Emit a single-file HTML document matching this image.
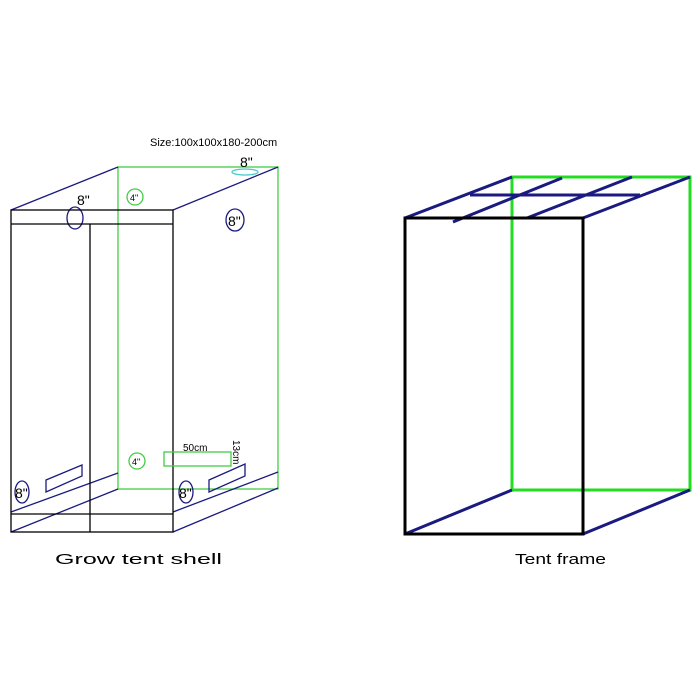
<!DOCTYPE html>
<html><head><style>body{margin:0;background:#fff}svg{display:block}</style></head><body>
<svg width="700" height="700" viewBox="0 0 700 700" xmlns="http://www.w3.org/2000/svg" font-family="Liberation Sans, sans-serif">
<rect width="700" height="700" fill="#fff"/>
<!-- Left shell -->
<g fill="none" stroke-width="1.3">
<rect x="118" y="167" width="160" height="322" stroke="#4c4"/>
<g stroke="#1a1a80">
<line x1="11" y1="210" x2="118" y2="167"/>
<line x1="173" y1="210" x2="278" y2="167"/>
<line x1="11" y1="512" x2="118" y2="473"/>
<line x1="11" y1="532" x2="118" y2="489"/>
<line x1="173" y1="512" x2="278" y2="472"/>
<line x1="173" y1="532" x2="278" y2="488"/>
<ellipse cx="75" cy="218" rx="8" ry="11"/>
<ellipse cx="235" cy="220" rx="9" ry="11"/>
<ellipse cx="22" cy="492" rx="7" ry="11"/>
<ellipse cx="186" cy="492" rx="7" ry="11"/>
<polygon points="46,480 82,465 82,476 46,492"/>
<polygon points="209,480 245,464 245,476 209,492"/>
</g>
<g stroke="#000">
<rect x="11" y="210" width="162" height="322"/>
<line x1="11" y1="224" x2="173" y2="224"/>
<line x1="90" y1="224" x2="90" y2="532"/>
<line x1="11" y1="514" x2="173" y2="514"/>
</g>
<g stroke="#4c4">
<circle cx="135" cy="197" r="8"/>
<circle cx="137" cy="461" r="8"/>
<rect x="164" y="452" width="67" height="14"/>
</g>
<ellipse cx="245" cy="172" rx="13" ry="3" stroke="#4cc"/>
</g>
<g fill="#000">
<text x="150" y="146" font-size="11">Size:100x100x180-200cm</text>
<text x="240" y="167" font-size="14">8"</text>
<text x="77" y="205" font-size="14">8"</text>
<text x="130" y="201" font-size="9">4"</text>
<text x="228" y="226" font-size="14">8"</text>
<text x="132" y="465" font-size="9">4"</text>
<text x="183" y="451" font-size="10">50cm</text>
<text transform="translate(233,440) rotate(90)" font-size="10">13cm</text>
<text x="15" y="498" font-size="14">8"</text>
<text x="179" y="498" font-size="14">8"</text>
<text x="55" y="564" font-size="15" textLength="167" lengthAdjust="spacingAndGlyphs">Grow tent shell</text>
<text x="515" y="564" font-size="15" textLength="91" lengthAdjust="spacingAndGlyphs">Tent frame</text>
</g>
<!-- Right frame -->
<g fill="none" stroke-width="3">
<rect x="512" y="177" width="178" height="313" stroke="#2d2"/>
<g stroke="#1a1a80">
<line x1="405" y1="218" x2="512" y2="177"/>
<line x1="583" y1="218" x2="690" y2="177"/>
<line x1="405" y1="534" x2="512" y2="490"/>
<line x1="583" y1="534" x2="690" y2="490"/>
<line x1="453" y1="222" x2="562" y2="178"/>
<line x1="527" y1="218" x2="632" y2="177"/>
<line x1="470" y1="195" x2="640" y2="195"/>
</g>
<rect x="405" y="218" width="178" height="316" stroke="#000"/>
</g>
</svg>
</body></html>
